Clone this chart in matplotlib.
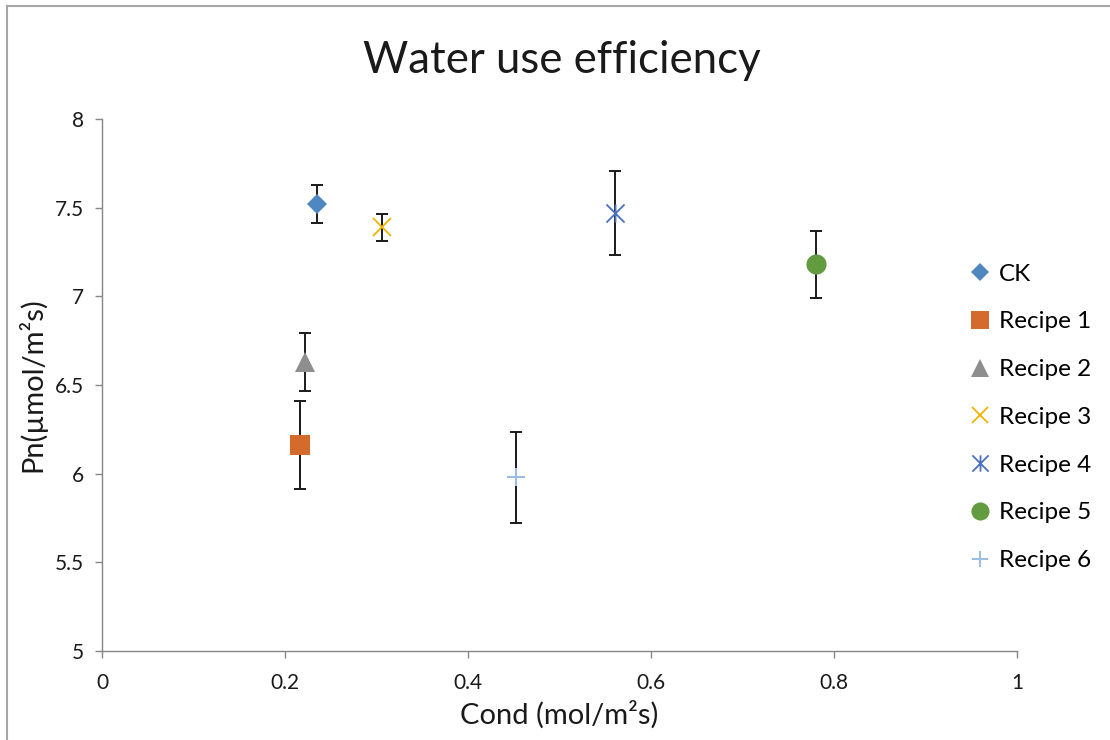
import matplotlib
matplotlib.use("Agg")
import matplotlib.pyplot as plt
from matplotlib.path import Path
from matplotlib.lines import Line2D

plt.rcParams['font.family'] = ['Lato', 'DejaVu Sans']

# Treatments: stomatal conductance (x), net photosynthesis (y) and its error
labels = ["CK", "Recipe 1", "Recipe 2", "Recipe 3", "Recipe 4", "Recipe 5", "Recipe 6"]
cond = [0.235, 0.216, 0.222, 0.306, 0.561, 0.780, 0.453]
pn = [7.52, 6.16, 6.63, 7.39, 7.47, 7.18, 5.98]
pn_err = [0.105, 0.248, 0.165, 0.076, 0.239, 0.187, 0.256]

x_ticks = [0, 0.2, 0.4, 0.6, 0.8, 1]
y_ticks = [5, 5.5, 6, 6.5, 7, 7.5, 8]

# asterisk marker: an x with a vertical stroke through it
star_path = Path(
    [(-0.5, -0.5), (0.5, 0.5), (-0.5, 0.5), (0.5, -0.5), (0, -0.5), (0, 0.5)],
    [Path.MOVETO, Path.LINETO, Path.MOVETO, Path.LINETO, Path.MOVETO, Path.LINETO],
)

styles = [
    dict(marker="D", ms=9.8, color="#4f87c1", mew=0),
    dict(marker="s", ms=14, color="#d46b2c", mew=0),
    dict(marker="^", ms=14, color="#8e8e8e", mew=0),
    dict(marker="x", ms=13, color="#f0b400", mew=1.3),
    dict(marker=star_path, ms=13, color="#4a70c0", mew=1.3),
    dict(marker="o", ms=14.5, color="#639b40", mew=0),
    dict(marker="+", ms=13, color="#9dbde2", mew=1.5),
]

fig = plt.figure(figsize=(11.1, 7.4), dpi=100)
ax = fig.add_axes([0.0919, 0.1203, 0.8243, 0.7189])

for lab, x, y, e, st in zip(labels, cond, pn, pn_err, styles):
    ax.errorbar(x, y, yerr=e, fmt="none", ecolor="#1a1a1a", elinewidth=1.4,
                capsize=4.3, capthick=1.4, zorder=2)
    ax.plot([x], [y], linestyle="none", label=lab, zorder=3, **st)

ax.set_xlim(0, 1)
ax.set_ylim(5, 8)
ax.set_xticks(x_ticks)
ax.set_xticklabels([f"{v:g}" for v in x_ticks])
ax.set_yticks(y_ticks)
ax.set_yticklabels([f"{v:g}" for v in y_ticks])

for side in ("top", "right"):
    ax.spines[side].set_visible(False)
for side in ("left", "bottom"):
    ax.spines[side].set_color("#868686")
    ax.spines[side].set_linewidth(1.0)
ax.tick_params(axis="both", colors="#868686", labelcolor="#1a1a1a",
               labelsize=15, length=5, width=1.0, direction="out")
ax.tick_params(axis="x", pad=11)
ax.tick_params(axis="y", pad=8)

ax.set_xlabel("Cond (mol/m²s)", fontsize=21, color="#1a1a1a", labelpad=5)
ax.set_ylabel("Pn(µmol/m²s)", fontsize=21, color="#1a1a1a", labelpad=6)
fig.text(0.506, 0.918, "Water use efficiency", ha="center", va="center",
         fontsize=31.5, color="#1a1a1a")

ax.legend(loc="upper left", bbox_to_anchor=(0.864, 0.657),
          bbox_transform=fig.transFigure, frameon=False, fontsize=17.5,
          handlelength=0.9, handletextpad=0.35, labelspacing=1.1,
          markerscale=0.9, borderaxespad=0)

# outer chart frame (left and top edges)
fig.add_artist(Line2D([0.0063, 0.0063], [0, 0.9919], color="#a6a6a6", lw=1.5,
                      transform=fig.transFigure))
fig.add_artist(Line2D([0.0063, 1], [0.9919, 0.9919], color="#a6a6a6", lw=1.5,
                      transform=fig.transFigure))

fig.savefig("out.png", dpi=100, facecolor="white")
